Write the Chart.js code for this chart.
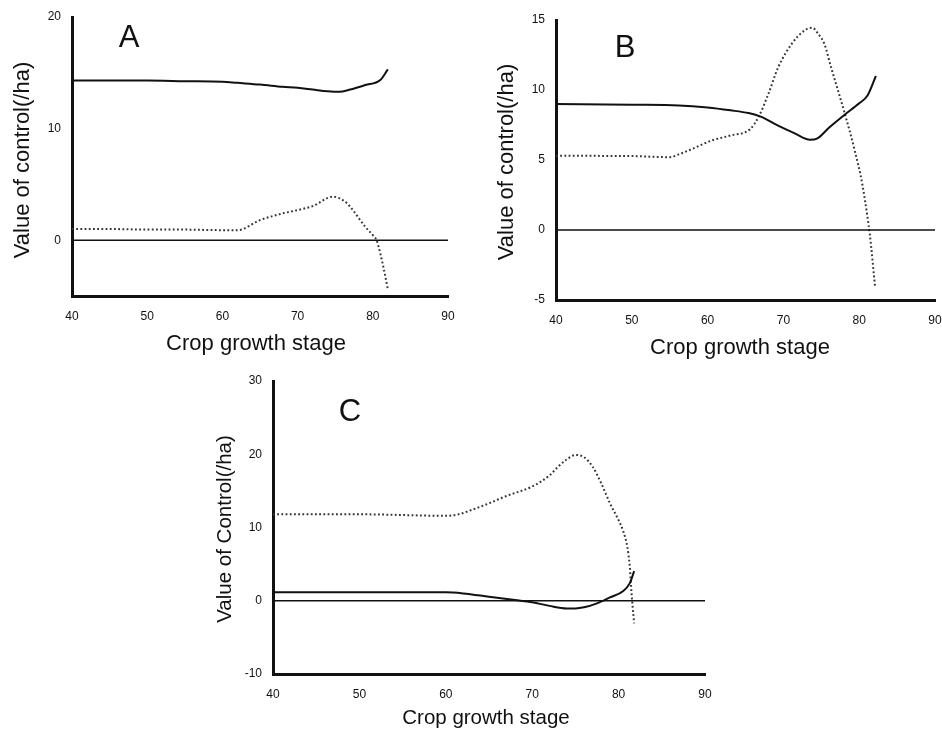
<!DOCTYPE html>
<html>
<head>
<meta charset="utf-8">
<script src="https://cdn.jsdelivr.net/npm/chart.js@4.4.0/dist/chart.umd.min.js"></script>
<style>
  html, body { margin: 0; padding: 0; background: #fff; }
  #wrap { position: relative; width: 942px; height: 729px; overflow: hidden; }
  #wrap canvas { position: absolute; left: 0; top: 0; }
</style>
</head>
<body>
<div id="wrap">
  <canvas id="chartA" width="942" height="729"></canvas>
  <canvas id="chartB" width="942" height="729"></canvas>
  <canvas id="chartC" width="942" height="729"></canvas>
</div>
<script>
// shared axis stuff
const stageTicks = [40, 50, 60, 70, 80, 90];
const zeroStage = [40, 90];
const zeroValue = [0, 0];

// panel A
const yTicksA = [0, 10, 20];
const solidStageA = [40, 45, 50, 55, 60, 62, 65, 68, 70, 72, 74, 75.5, 77, 79, 81, 82];
const solidValueA = [14.3, 14.3, 14.3, 14.25, 14.2, 14.1, 13.95, 13.75, 13.65, 13.5, 13.35, 13.3, 13.5, 13.9, 14.35, 15.3];
const dotStageA = [40, 45, 50, 55, 60, 62, 65, 68, 70, 72, 74.7, 76, 77, 78, 79, 80, 80.5, 81, 81.5, 82];
const dotValueA = [1.0, 1.0, 0.95, 0.95, 0.9, 0.9, 1.8, 2.4, 2.7, 3.05, 3.9, 3.6, 3.0, 2.1, 1.2, 0.45, 0.0, -1.2, -2.7, -4.4];

// panel B
const yTicksB = [-5, 0, 5, 10, 15];
const solidStageB = [40, 50, 56.2, 60, 63, 65.4, 67, 69.3, 71.5, 73.5, 74.5, 76, 78, 80, 81.1, 82.2];
const solidValueB = [9.0, 8.95, 8.9, 8.75, 8.55, 8.35, 8.1, 7.45, 6.9, 6.45, 6.55, 7.3, 8.2, 9.05, 9.6, 11.0];
const dotStageB = [40, 50, 55, 56.2, 58, 60.6, 63, 65.6, 66.7, 68, 69.3, 71.1, 72.8, 73.8, 74.6, 75.4, 76.3, 78, 79.4, 80.4, 81.1, 81.4, 82.1];
const dotValueB = [5.3, 5.28, 5.2, 5.4, 5.8, 6.4, 6.75, 7.2, 8.05, 9.7, 11.6, 13.3, 14.26, 14.45, 14.0, 13.3, 11.6, 8.5, 5.7, 3.3, 0.9, -0.3, -4.1];

// panel C
const yTicksC = [-10, 0, 10, 20, 30];
const solidStageC = [40, 50, 60, 62, 65, 68, 70, 72, 74, 75, 76, 77.5, 79, 80.5, 81.3, 81.8];
const solidValueC = [1.15, 1.15, 1.15, 1.0, 0.55, 0.1, -0.2, -0.7, -1.05, -1.05, -0.9, -0.36, 0.45, 1.3, 2.4, 4.05];
const dotStageC = [40, 50, 60, 61.5, 63, 65, 67, 70, 72, 73, 74, 75, 76, 77, 78, 79, 80, 80.5, 81, 81.3, 81.5, 81.8];
const dotValueC = [11.8, 11.8, 11.6, 11.8, 12.4, 13.3, 14.3, 15.6, 17.1, 18.3, 19.3, 19.9, 19.6, 18.3, 16.0, 13.3, 11.0, 9.6, 7.4, 4.6, 1.0, -3.1];

const FONT = '"Liberation Sans", Arial, Helvetica, sans-serif';
const Y_W = 40, X_H = 45;

const toPoints = (xs, ys) => xs.map((x, i) => ({ x: x, y: ys[i] }));

// draws the panel letter and both axis titles
const panelText = {
  id: 'panelText',
  afterDraw(chart, args, o) {
    const ctx = chart.ctx;
    ctx.save();
    ctx.fillStyle = '#111';
    ctx.textAlign = 'center';
    ctx.textBaseline = 'middle';
    ctx.font = '31px ' + FONT;
    ctx.fillText(o.letter, o.letterPos[0], o.letterPos[1]);
    ctx.font = o.titleSize + 'px ' + FONT;
    ctx.fillText('Crop growth stage', o.xTitlePos[0], o.xTitlePos[1]);
    ctx.translate(o.yTitlePos[0], o.yTitlePos[1]);
    ctx.rotate(-Math.PI / 2);
    ctx.fillText(o.yTitle, 0, 0);
    ctx.restore();
  }
};

function makePanel(id, p) {
  new Chart(document.getElementById(id), {
    type: 'line',
    data: {
      datasets: [
        { data: toPoints(zeroStage, zeroValue), borderColor: '#111', borderWidth: 1.5 },
        { data: toPoints(p.solidX, p.solidY), borderColor: '#111', borderWidth: 2, cubicInterpolationMode: 'monotone' },
        { data: toPoints(p.dotX, p.dotY), borderColor: '#333', borderWidth: 2, borderDash: [1.8, 2.4], cubicInterpolationMode: 'monotone' }
      ]
    },
    options: {
      responsive: false,
      animation: false,
      devicePixelRatio: 1,
      elements: { point: { radius: 0 } },
      layout: {
        padding: { left: p.area[0] - Y_W, top: p.area[1], right: 942 - p.area[2], bottom: 729 - p.area[3] - X_H }
      },
      plugins: {
        legend: { display: false },
        tooltip: { enabled: false },
        panelText: p.text
      },
      scales: {
        x: {
          type: 'linear', min: 40, max: 90,
          grid: { display: false },
          border: { display: true, width: 3, color: '#111' },
          ticks: { padding: 5, color: '#111', font: { family: FONT, size: 12 } },
          afterBuildTicks: s => { s.ticks = stageTicks.map(v => ({ value: v })); },
          afterFit: s => { s.height = X_H; s.paddingLeft = 0; s.paddingRight = 0; }
        },
        y: {
          min: p.yMin, max: p.yMax,
          grid: { display: false },
          border: { display: true, width: 3, color: '#111' },
          ticks: { padding: 3, color: '#111', font: { family: FONT, size: 12 } },
          afterBuildTicks: s => { s.ticks = p.yTicks.map(v => ({ value: v })); },
          afterFit: s => { s.width = Y_W; s.paddingTop = 0; s.paddingBottom = 0; }
        }
      }
    },
    plugins: [panelText]
  });
}

makePanel('chartA', {
  area: [72, 17, 448, 296], yMin: -5, yMax: 20, yTicks: yTicksA,
  solidX: solidStageA, solidY: solidValueA, dotX: dotStageA, dotY: dotValueA,
  text: { letter: 'A', letterPos: [129, 38], titleSize: 22, yTitle: 'Value of control(/ha)', yTitlePos: [23, 160], xTitlePos: [256, 344] }
});

makePanel('chartB', {
  area: [556, 20, 935, 300], yMin: -5, yMax: 15, yTicks: yTicksB,
  solidX: solidStageB, solidY: solidValueB, dotX: dotStageB, dotY: dotValueB,
  text: { letter: 'B', letterPos: [625, 48], titleSize: 22, yTitle: 'Value of control(/ha)', yTitlePos: [507, 162], xTitlePos: [740, 348] }
});

makePanel('chartC', {
  area: [273, 381, 705, 674], yMin: -10, yMax: 30, yTicks: yTicksC,
  solidX: solidStageC, solidY: solidValueC, dotX: dotStageC, dotY: dotValueC,
  text: { letter: 'C', letterPos: [350, 412], titleSize: 20.5, yTitle: 'Value of Control(/ha)', yTitlePos: [225, 529], xTitlePos: [486, 718] }
});
</script>
</body>
</html>
